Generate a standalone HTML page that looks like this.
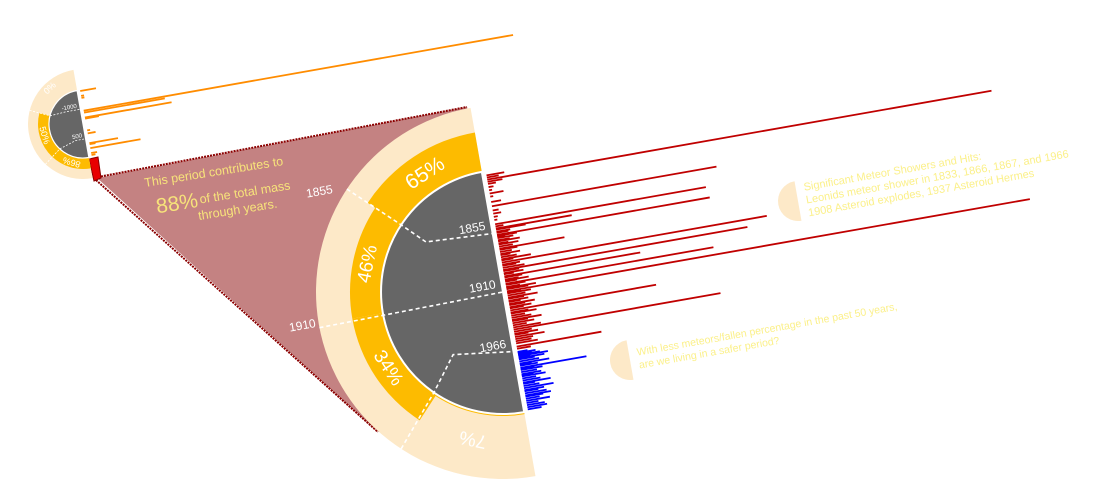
<!DOCTYPE html>
<html><head><meta charset="utf-8"><style>
html,body{margin:0;padding:0;background:#fff;width:1104px;height:480px;overflow:hidden;}
svg{display:block;font-family:"Liberation Sans",sans-serif;overflow:hidden;}
</style></head><body>
<svg id="chart" width="1104" height="480" viewBox="0 0 1104 480" xmlns="http://www.w3.org/2000/svg">
  <polygon points="97,178 467,107 503,292 378,432" fill="#c48282"/>
  <line x1="98" y1="177" x2="467" y2="107" stroke="#8b0000" stroke-width="2" stroke-dasharray="2,1"/>
  <line x1="96" y1="180" x2="378" y2="432" stroke="#8b0000" stroke-width="2" stroke-dasharray="2,1"/>
  <polygon points="89,159 98,157 101,178 94,181" fill="#e80000" stroke="#8b0000" stroke-width="1"/>
  <g transform="translate(145,187) rotate(-9)" fill="#f7e37a">
    <text x="0" y="0" font-size="12.5">This period contributes to</text>
    <text x="8" y="28" font-size="21">88%</text>
    <text x="52" y="25" font-size="12.5">of the total mass</text>
    <text x="48" y="41" font-size="12.5">through years.</text>
  </g>
  <g id="big" transform="translate(503,292) rotate(-10)"></g>
  <g id="small" transform="translate(83,124) rotate(-10)"></g>
  <g transform="translate(798,201) rotate(-10)">
    <path d="M0,-20 A20,20 0 0 0 0,20 Z" fill="#fde9c8"/>
    <text x="8" y="-9" font-size="11" fill="#fbf08a">Significant Meteor Showers and Hits:</text>
    <text x="8" y="4" font-size="11" fill="#fbf08a">Leonids meteor shower in 1833, 1866, 1867, and 1966</text>
    <text x="8" y="17" font-size="11" fill="#fbf08a">1908 Asteroid explodes, 1937 Asteroid Hermes</text>
  </g>
  <g transform="translate(630,360) rotate(-10)">
    <path d="M0,-20 A20,20 0 0 0 0,20 Z" fill="#fde9c8"/>
    <text x="8" y="-3" font-size="10.5" fill="#fbf08a">With less meteors/fallen percentage in the past 50 years,</text>
    <text x="8" y="10" font-size="10.5" fill="#fbf08a">are we living in a safer period?</text>
  </g>
</svg>
<script>
// ---- main chart data ----
const redYears = [1801,1803,1805,1807,1809,1812,1815,1818,1821,1826,1830,1834,1837,1840,1843,1847,1849,1851,1852,1854,1855,1857,1858,1859,1860,1862,1863,1865,1866,1868,1870,1871,1873,1875,1876,1878,1880,1881,1883,1885,1886,1888,1890,1891,1893,1894,1896,1897,1899,1900,1901,1903,1904,1906,1907,1908,1910,1911,1912,1914,1916,1917,1919,1920,1922,1923,1925,1926,1928,1930,1931,1933,1935,1937,1938,1940,1942,1944,1946,1948,1950,1951,1953,1955,1957,1959,1962,1964];
const redValues = [18,12,512,15,8,5,3,14,3,10,228,6,8,4,3,214,8,77,30,14,12,216,20,8,16,12,22,10,20,14,66,18,12,20,10,16,30,12,269,18,14,22,248,16,20,10,138,18,14,24,12,211,20,14,30,22,531,14,24,18,30,16,20,12,26,16,22,14,148,18,26,14,20,30,16,22,14,28,210,18,24,14,30,18,16,22,86,14];
const blueYears = [1967,1968,1969,1970,1971,1972,1973,1974,1976,1978,1979,1980,1982,1983,1984,1986,1988,1989,1990,1992,1994,1996,1997,1999,2001,2003,2004,2006,2008,2009,2011,2013,2015,2017,2019,2021];
const blueValues = [10,18,14,22,30,12,26,16,20,30,12,18,67,14,22,16,20,12,24,14,18,28,12,16,30,20,14,22,26,18,14,24,12,18,20,14];
const sectionLabels = ["65%","46%","34%","7%"];
const sectionBounds = [-90,-136.6,-180,-227,-270];
const boundaryYears = [1855,1910,1966];
// ---- overview chart data ----
const orangeYears = [-1900,-1650,-1550,-900,-800,-550,-500,100,250,750,800,1000,1250,1350];
const orangeValues = [16,3,3,436,82,88,14,3,8,29,6,51,6,4];
const smallLabels = ["0%","50%","86%"];
const smallBounds = [-90,-155.7,-217,-270];

const NS="http://www.w3.org/2000/svg";
function mk(parent,tag,attrs){const e=document.createElementNS(NS,tag);for(const k in attrs)e.setAttribute(k,attrs[k]);parent.appendChild(e);return e;}
function pt(r,a){const t=a*Math.PI/180;return [r*Math.cos(t),r*Math.sin(t)];}
function sector(r0,r1,a1,a2){
  const large=Math.abs(a2-a1)>180?1:0;
  const p1=pt(r1,a1),p2=pt(r1,a2),p3=pt(r0,a2),p4=pt(r0,a1);
  const sw=a2<a1?0:1;
  return `M${p1}L${p1} A${r1},${r1} 0 ${large} ${sw} ${p2} L${p3} A${r0},${r0} 0 ${large} ${1-sw} ${p4}Z`;
}
const yScale = yr => (yr-1910)*1.08;
const sScale = yr => (yr+250)*0.02;

const big=document.getElementById('big');
let e=mk(big,'path',{d:sector(0.01,187,-90,-270),fill:'#fde9c8'});


const goldOuter=[162,153,153];
for(let i=0;i<3;i++){
  e=mk(big,'path',{d:sector(122,goldOuter[i],sectionBounds[i],sectionBounds[i+1]),fill:'#fdbb00'});
  
  
}
e=mk(big,'path',{d:sector(122,124,sectionBounds[3],sectionBounds[4]),fill:'#fdbb00'});


e=mk(big,'path',{d:sector(0.01,122,-90,-270),fill:'#666',stroke:'#fff','stroke-width':2});


for(let i=0;i<4;i++){
  const mid=(sectionBounds[i]+sectionBounds[i+1])/2;
  const r=i==3?150:(i==0?142:138);
  const [x,y]=pt(r,mid);
  let rot=mid+90; if(i==2) rot=mid+270;
  const t=mk(big,'text',{x:x,y:y,fill:'#fff','font-size':i==0?21:19,'text-anchor':'middle','dominant-baseline':'central',transform:`rotate(${rot} ${x} ${y})`});
  t.textContent=sectionLabels[i];
  
  
}
const bPaths=[
  `M${pt(187,-136.6)} L${pt(122,-136.6)} L${pt(92,-137)} L0,${yScale(1855)}`,
  `M${pt(187,179)} L0,${yScale(1910)}`,
  `M${pt(187,133)} L${pt(122,134.5)} L-60,53 L0,${yScale(1966)}`
];
for(let i=0;i<3;i++){
  e=mk(big,'path',{d:bPaths[i],fill:'none',stroke:'#fff','stroke-width':1.6,'stroke-dasharray':'4,3'});
  
  
  const t=mk(big,'text',{x:-6,y:yScale(boundaryYears[i])-5,fill:'#fff','font-size':12,'text-anchor':'end'});
  t.textContent=boundaryYears[i];
  
  
}
const outerL=[[-150,-127,1855],[-190,2,1910]];
for(const o of outerL){
  const t=mk(big,'text',{x:o[0],y:o[1],fill:'#fff','font-size':12,'text-anchor':'end'});
  t.textContent=o[2];
  
  
}
mk(big,'line',{x1:2,y1:-124,x2:2,y2:124,stroke:'#fff','stroke-width':3});
for(let i=0;i<redYears.length;i++){
  const y=yScale(redYears[i]);
  e=mk(big,'line',{x1:4,y1:y,x2:4+redValues[i],y2:y,stroke:'#c00000','stroke-width':1.8});
  
  
}
for(let i=0;i<blueYears.length;i++){
  const y=yScale(blueYears[i]);
  e=mk(big,'line',{x1:4,y1:y,x2:4+blueValues[i],y2:y,stroke:'#0000ff','stroke-width':1.8});
  
  
}

const sm=document.getElementById('small');
e=mk(sm,'path',{d:sector(0.01,55,-90,-270),fill:'#fde9c8'});


for(let i=1;i<3;i++){
  e=mk(sm,'path',{d:sector(34,45,smallBounds[i],smallBounds[i+1]),fill:'#fdbb00'});
  
  
}
e=mk(sm,'path',{d:sector(0.01,34,-90,-270),fill:'#666',stroke:'#fff','stroke-width':1.2});


for(let i=0;i<3;i++){
  const mid=(smallBounds[i]+smallBounds[i+1])/2;
  const [x,y]=pt(i==0?49:40,mid);
  let rot=i==1?mid+270:mid+90;
  const t=mk(sm,'text',{x:x,y:y,fill:'#fff','font-size':9,'text-anchor':'middle','dominant-baseline':'central',transform:`rotate(${rot} ${x} ${y})`});
  t.textContent=smallLabels[i];
  
  
}
const sLines=[`M${pt(55,-155.7)} L${pt(34,-156)} L-14,${sScale(-1000)} L0,${sScale(-1000)}`,`M${pt(55,-217)} L${pt(34,-217)} L-10,${sScale(500)} L0,${sScale(500)}`];
const sLab=["-1000","500"];
for(let i=0;i<2;i++){
  e=mk(sm,'path',{d:sLines[i],fill:'none',stroke:'#fff','stroke-width':0.8,'stroke-dasharray':'2,1.5'});
  
  
  const t=mk(sm,'text',{x:-3,y:sScale(i==0?-1000:500)-2,fill:'#fff','font-size':6,'text-anchor':'end'});
  t.textContent=sLab[i];
  
  
}
mk(sm,'line',{x1:1,y1:-35,x2:1,y2:35,stroke:'#fff','stroke-width':1.5});
for(let i=0;i<orangeYears.length;i++){
  const y=sScale(orangeYears[i]);
  e=mk(sm,'line',{x1:3,y1:y,x2:3+orangeValues[i],y2:y,stroke:'#ff8c00','stroke-width':1.8});
  
  
}
</script>
</body></html>
